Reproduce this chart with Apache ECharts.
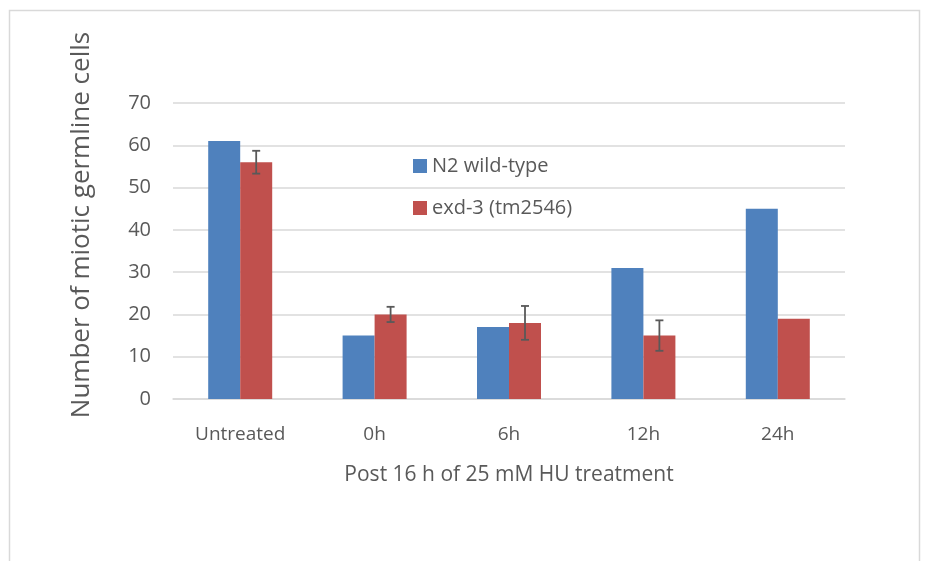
<!DOCTYPE html>
<html><head><meta charset="utf-8">
<script src="https://cdn.jsdelivr.net/npm/echarts@6/dist/echarts.min.js"></script>
<style>html,body{margin:0;padding:0;background:#fff}#c{width:934px;height:561px}</style>
</head><body><div id="c"></div>
<script>
const categories = ['Untreated', '0h', '6h', '12h', '24h'];
const wildType = [61, 15, 17, 31, 45];
const mutant = [56, 20, 18, 15, 19];
const mutantErr = [2.7, 1.8, 4.0, 3.6, null];
const seriesNames = ['N2 wild-type', 'exd-3 (tm2546)'];

const BAR_W = 32;
const FONT = '"Open Sans", "Noto Sans", sans-serif';
const chart = echarts.init(document.getElementById('c'));
chart.setOption({
  animation: false,
  backgroundColor: '#fff',
  graphic: [{
    type: 'rect', shape: { x: 9.5, y: 10.5, width: 910, height: 570 },
    style: { fill: 'none', stroke: '#d9d9d9', lineWidth: 1.5 }, silent: true
  }],
  grid: { left: 173, right: 89, top: 103, bottom: 162 },
  legend: {
    orient: 'vertical', left: 408, top: 151, itemGap: 22,
    itemWidth: 14, itemHeight: 14, icon: 'rect',
    textStyle: { color: '#595959', fontSize: 20, fontFamily: FONT },
    data: seriesNames
  },
  xAxis: {
    type: 'category', data: categories,
    name: 'Post 16 h of 25 mM HU treatment', nameLocation: 'middle', nameGap: 66,
    nameTextStyle: { color: '#595959', fontSize: 21, fontFamily: FONT },
    axisLine: { lineStyle: { color: '#d9d9d9', width: 1.5 } },
    axisTick: { show: false },
    axisLabel: { color: '#595959', fontSize: 19, fontFamily: FONT, margin: 26 }
  },
  yAxis: {
    type: 'value', min: 0, max: 70, interval: 10,
    name: 'Number of miotic germline cells', nameLocation: 'middle', nameGap: 78,
    nameTextStyle: { color: '#595959', fontSize: 26, fontFamily: FONT, padding: [0, 0, 0, 52] },
    axisLine: { show: false }, axisTick: { show: false },
    splitLine: { lineStyle: { color: '#d9d9d9', width: 1.5 } },
    axisLabel: { color: '#595959', fontSize: 20, fontFamily: FONT, margin: 22 }
  },
  series: [
    { name: seriesNames[0], type: 'bar', data: wildType, barWidth: BAR_W, barGap: '0%',
      itemStyle: { color: '#4F81BD' } },
    { name: seriesNames[1], type: 'bar', data: mutant, barWidth: BAR_W, barGap: '0%',
      itemStyle: { color: '#C0504D' } },
    { type: 'custom', name: 'err', z: 10, silent: true,
      data: mutant.map((v, i) => [i, v, mutantErr[i]]),
      renderItem: function (params, api) {
        const e = api.value(2);
        if (e === null || e === undefined || isNaN(e)) return null;
        const i = api.value(0), v = api.value(1);
        const hi = api.coord([i, v + e]);
        const lo = api.coord([i, v - e]);
        const x = hi[0] + BAR_W / 2;
        const cap = 4;
        const st = { stroke: '#595959', lineWidth: 1.8 };
        return { type: 'group', children: [
          { type: 'line', shape: { x1: x, y1: hi[1], x2: x, y2: lo[1] }, style: st },
          { type: 'line', shape: { x1: x - cap, y1: hi[1], x2: x + cap, y2: hi[1] }, style: st },
          { type: 'line', shape: { x1: x - cap, y1: lo[1], x2: x + cap, y2: lo[1] }, style: st }
        ] };
      }
    }
  ]
});
</script></body></html>
